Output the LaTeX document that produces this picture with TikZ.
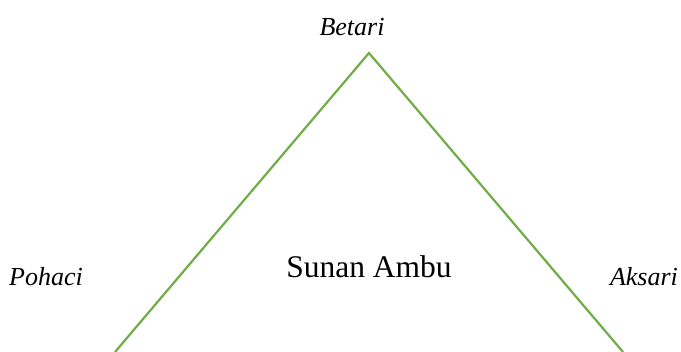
\documentclass[tikz,border=0pt]{standalone}
\usepackage{fontspec}
\setmainfont{Liberation Serif}
\usepackage{tikz}
\definecolor{leafgreen}{RGB}{112,173,71}

\begin{document}
\begin{tikzpicture}[x=1pt,y=-1pt,
  side/.style={line width=2.2pt, draw=leafgreen},
  aspect/.style={font=\fontsize{26}{30}\selectfont\itshape, inner sep=0pt, anchor=base},
  centre/.style={font=\fontsize{31.5}{36}\selectfont, inner sep=0pt, anchor=base}]
\useasboundingbox (0,0) rectangle (681,352);
%vertex
\coordinate (top) at (369,53);
\coordinate (left) at (115,352); \coordinate (right) at (623,352);
%edge
\draw[side] (left)--(top)--(right);
%labels
\node[aspect] (betari) at (352,36) {Betari};
\node[aspect] (pohaci) at (46,286) {Pohaci};
\node[aspect] (aksari) at (644,286) {Aksari};
\node[centre] (ambu) at (369,278) {Sunan Ambu};
\end{tikzpicture}
\end{document}
